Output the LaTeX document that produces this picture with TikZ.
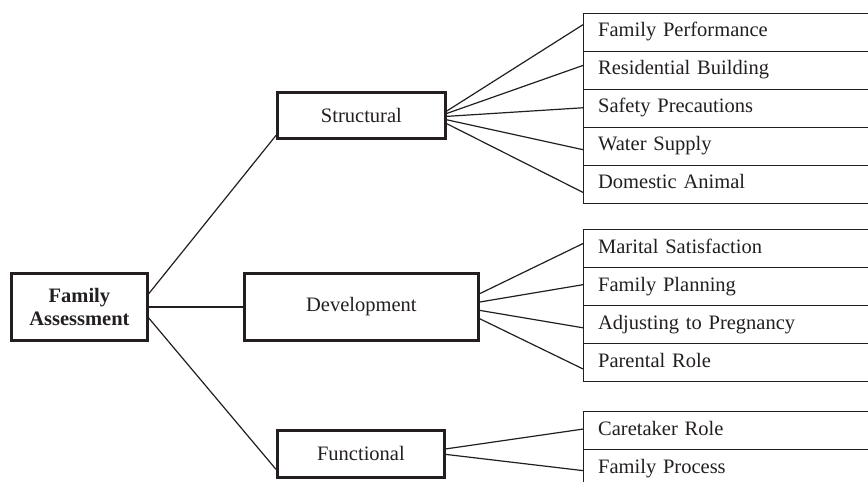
\documentclass[tikz,border=0pt]{standalone}
\usepackage{fontspec}
\setmainfont{Liberation Serif}
\usetikzlibrary{calc}
\definecolor{ink}{HTML}{231F20}
\tikzset{
  mainbox/.style={draw=ink, line width=2.8pt, inner sep=0pt, anchor=north west, text=ink,
    font=\fontsize{20.5}{23.5}\selectfont},
  leafbox/.style={draw=ink, line width=1.3pt, anchor=north west, minimum height=38pt,
    text width=305pt, inner xsep=14.5pt, inner ysep=0pt, align=left,
    text height=14pt, text depth=4.5pt, text=ink,
    font=\fontsize{20.5}{23.5}\selectfont},
  link/.style={draw=ink, line width=1.2pt}
}
\begin{document}
\begin{tikzpicture}[x=1pt, y=-1pt]
\clip (0,0) rectangle (868,482);
\fill[white] (0,0) rectangle (868,482);
% main boxes
\node[mainbox, minimum width=136pt, minimum height=67pt, align=center, font=\fontsize{20.5}{23.5}\selectfont\bfseries] (fa) at (10,272) {Family\\Assessment};
\node[mainbox, minimum width=168pt, minimum height=46pt] (st) at (276,91) {Structural};
\node[mainbox, minimum width=234pt, minimum height=67pt] (dv) at (243,272) {Development};
\node[mainbox, minimum width=167pt, minimum height=47pt] (fn) at (276,429) {Functional};
% structural leaves
\node[leafbox] (s1) at (583,12.5) {Family Performance};
\node[leafbox] (s2) at (583,50.5) {Residential Building};
\node[leafbox] (s3) at (583,88.5) {Safety Precautions};
\node[leafbox] (s4) at (583,126.5) {Water Supply};
\node[leafbox] (s5) at (583,164.5) {Domestic Animal};
% development leaves
\node[leafbox] (d1) at (583,229) {Marital Satisfaction};
\node[leafbox] (d2) at (583,267) {Family Planning};
\node[leafbox] (d3) at (583,305) {Adjusting to Pregnancy};
\node[leafbox] (d4) at (583,343) {Parental Role};
% functional leaves
\node[leafbox] (f1) at (583,411) {Caretaker Role};
\node[leafbox] (f2) at (583,449) {Family Process};
% links from Family Assessment
\draw[link] ($(fa.north east)!0.31!(fa.south east)$) -- ($(st.north west)!0.91!(st.south west)$);
\draw[link] (fa.east) -- (dv.west);
\draw[link] ($(fa.north east)!0.66!(fa.south east)$) -- ($(fn.north west)!0.81!(fn.south west)$);
% structural fan
\draw[link] ($(st.north east)!0.41!(st.south east)$) -- ($(s1.north west)!0.31!(s1.south west)$);
\draw[link] ($(st.north east)!0.46!(st.south east)$) -- ($(s2.north west)!0.38!(s2.south west)$);
\draw[link] ($(st.north east)!0.52!(st.south east)$) -- ($(s3.north west)!0.49!(s3.south west)$);
\draw[link] ($(st.north east)!0.59!(st.south east)$) -- ($(s4.north west)!0.59!(s4.south west)$);
\draw[link] ($(st.north east)!0.67!(st.south east)$) -- ($(s5.north west)!0.71!(s5.south west)$);
% development fan
\draw[link] ($(dv.north east)!0.31!(dv.south east)$) -- ($(d1.north west)!0.37!(d1.south west)$);
\draw[link] ($(dv.north east)!0.43!(dv.south east)$) -- ($(d2.north west)!0.45!(d2.south west)$);
\draw[link] ($(dv.north east)!0.55!(dv.south east)$) -- ($(d3.north west)!0.58!(d3.south west)$);
\draw[link] ($(dv.north east)!0.67!(dv.south east)$) -- ($(d4.north west)!0.66!(d4.south west)$);
% functional fan
\draw[link] ($(fn.north east)!0.40!(fn.south east)$) -- ($(f1.north west)!0.46!(f1.south west)$);
\draw[link] ($(fn.north east)!0.51!(fn.south east)$) -- ($(f2.north west)!0.55!(f2.south west)$);
\end{tikzpicture}
\end{document}
